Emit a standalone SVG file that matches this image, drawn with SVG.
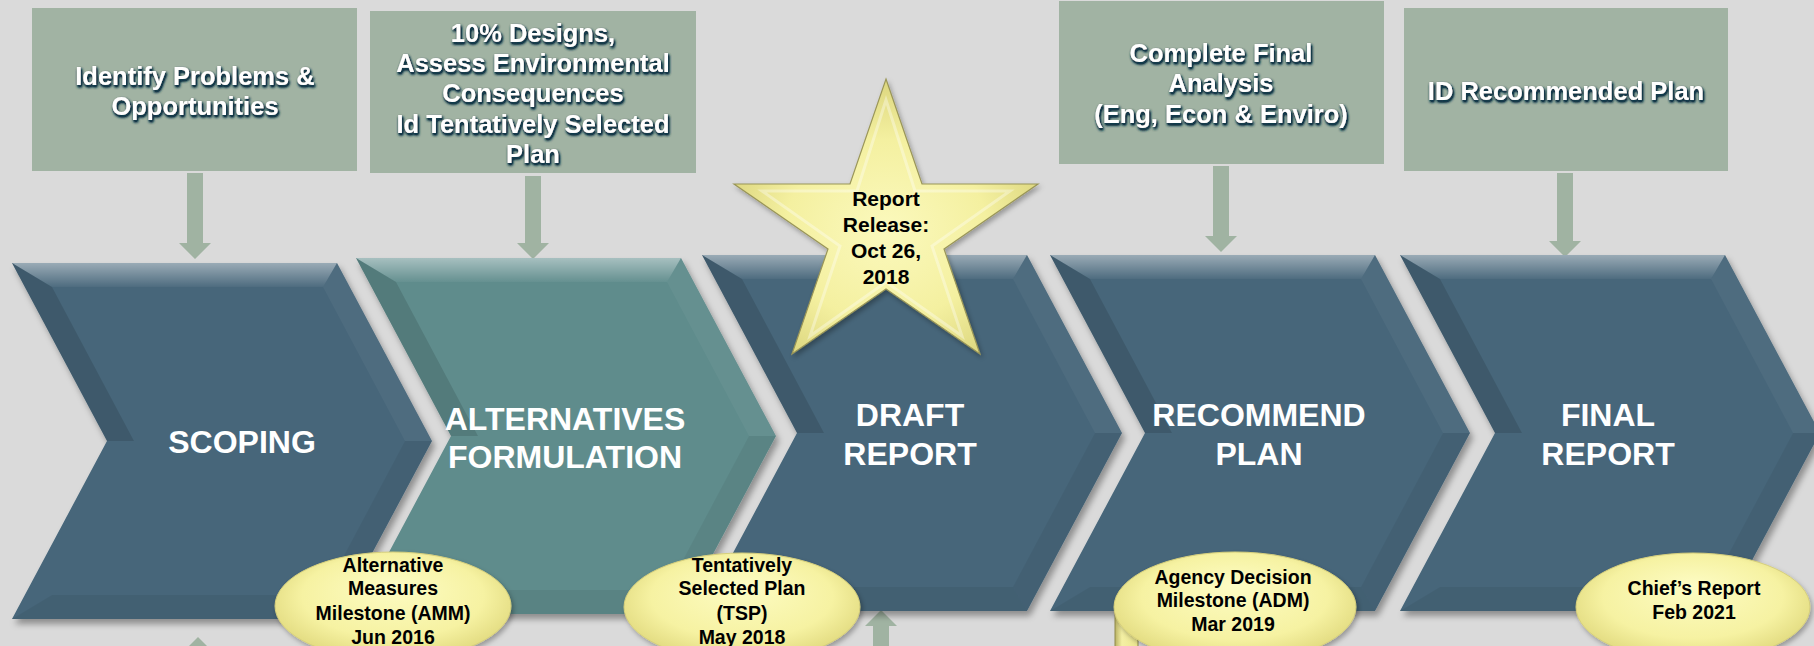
<svg xmlns="http://www.w3.org/2000/svg" xmlns:xlink="http://www.w3.org/1999/xlink" width="1814" height="646" viewBox="0 0 1814 646">
  <style>
    .box { fill: #a1b3a3; }
    .boxtxt { font-family: "Liberation Sans", Arial, sans-serif; font-weight: bold; font-size: 25.5px; fill: #ffffff; text-anchor: middle; }
    .chevtxt { font-family: "Liberation Sans", Arial, sans-serif; font-weight: bold; font-size: 32px; fill: #ffffff; text-anchor: middle; }
    .mstxt { font-family: "Liberation Sans", Arial, sans-serif; font-weight: bold; font-size: 19.5px; fill: #000000; text-anchor: middle; }
    .startxt { font-family: "Liberation Sans", Arial, sans-serif; font-weight: bold; font-size: 21px; fill: #000000; text-anchor: middle; }
    .dark { fill: #46667a; }
    .teal { fill: #5f8c8c; }
    .arrow { fill: #a0b3a2; }
    .ms { fill: url(#ellGrad); stroke: #d6cf7c; stroke-width: 1; }
  </style>
  <defs>
    <filter id="glow" x="-10%" y="-30%" width="120%" height="160%">
      <feGaussianBlur in="SourceAlpha" stdDeviation="1.8" result="b"/>
      <feOffset in="b" dx="1" dy="1.5" result="o"/>
      <feFlood flood-color="#163a4a"/>
      <feComposite in2="o" operator="in" result="c"/>
      <feComponentTransfer in="c" result="d"><feFuncA type="linear" slope="2.2"/></feComponentTransfer>
      <feMerge><feMergeNode in="d"/><feMergeNode in="SourceGraphic"/></feMerge>
    </filter>
    <filter id="shadow" x="-10%" y="-10%" width="125%" height="125%">
      <feDropShadow dx="3" dy="5" stdDeviation="3" flood-color="#000000" flood-opacity="0.35"/>
    </filter>
    <filter id="soft" x="-10%" y="-10%" width="125%" height="125%">
      <feDropShadow dx="2" dy="3" stdDeviation="2.5" flood-color="#000000" flood-opacity="0.3"/>
    </filter>
    <linearGradient id="topBand" x1="0" y1="0" x2="0" y2="1">
      <stop offset="0" stop-color="#ffffff" stop-opacity="0.45"/>
      <stop offset="1" stop-color="#ffffff" stop-opacity="0.04"/>
    </linearGradient>
    <radialGradient id="ellGrad" cx="0.5" cy="0.45" r="0.55" fx="0.5" fy="0.3">
      <stop offset="0" stop-color="#fdfcc4"/>
      <stop offset="0.7" stop-color="#f6f2a2"/>
      <stop offset="1" stop-color="#e2db80"/>
    </radialGradient>
    <radialGradient id="starGrad" cx="0.5" cy="0.55" r="0.55">
      <stop offset="0" stop-color="#fbf9bd"/>
      <stop offset="0.6" stop-color="#f4f0a0"/>
      <stop offset="1" stop-color="#dcd67e"/>
    </radialGradient>
    <linearGradient id="stickGrad" x1="0" y1="0" x2="1" y2="0">
      <stop offset="0" stop-color="#b8b163"/>
      <stop offset="0.3" stop-color="#f4f0a4"/>
      <stop offset="1" stop-color="#ece68f"/>
    </linearGradient>
    <polygon id="chevShape" points="0,0 325,0 420,178 325,356 0,356 95,178"/>
    <g id="chevBevel">
      <polygon points="0,0 325,0 311,24 40,24" fill="url(#topBand)"/>
      <polygon points="325,0 420,178 393,178 311,24" fill="#ffffff" fill-opacity="0.04"/>
      <polygon points="420,178 325,356 311,332 393,178" fill="#000000" fill-opacity="0.05"/>
      <polygon points="325,356 0,356 40,332 311,332" fill="#000000" fill-opacity="0.06"/>
      <polygon points="95,178 0,0 40,24 122,178" fill="#000000" fill-opacity="0.12"/>
    </g>
  </defs>

  <rect x="0" y="0" width="1814" height="646" fill="#dadada"/>

  <g id="box-identify">
    <rect class="box" x="32" y="8" width="325" height="163"/>
    <text class="boxtxt" filter="url(#glow)"><tspan x="195" y="85">Identify Problems &amp;</tspan><tspan x="195" y="115">Opportunities</tspan></text>
  </g>
  <g id="box-designs">
    <rect class="box" x="370" y="11" width="326" height="162"/>
    <text class="boxtxt" filter="url(#glow)"><tspan x="533" y="42">10% Designs,</tspan><tspan x="533" y="72">Assess Environmental</tspan><tspan x="533" y="102">Consequences</tspan><tspan x="533" y="133">Id Tentatively Selected</tspan><tspan x="533" y="163">Plan</tspan></text>
  </g>
  <g id="box-analysis">
    <rect class="box" x="1059" y="1" width="325" height="163"/>
    <text class="boxtxt" filter="url(#glow)"><tspan x="1221" y="62">Complete Final</tspan><tspan x="1221" y="92">Analysis</tspan><tspan x="1221" y="123">(Eng, Econ &amp; Enviro)</tspan></text>
  </g>
  <g id="box-recommended">
    <rect class="box" x="1404" y="8" width="324" height="163"/>
    <text class="boxtxt" filter="url(#glow)"><tspan x="1566" y="100">ID Recommended Plan</tspan></text>
  </g>

  <g id="connectors">
    <polygon class="arrow" points="187,173 203,173 203,243 211,243 195,259 179,243 187,243"/>
    <polygon class="arrow" points="525,176 541,176 541,243 549,243 533,259 517,243 525,243"/>
    <polygon class="arrow" points="1213,166 1229,166 1229,236 1237,236 1221,252 1205,236 1213,236"/>
    <polygon class="arrow" points="1557,173 1573,173 1573,241 1581,241 1565,257 1549,241 1557,241"/>
    <polygon class="arrow" points="881,610 897,626 889,626 889,646 873,646 873,626 865,626"/>
    <polygon class="arrow" points="198,637 214,653 182,653"/>
  </g>

  <g id="chev-scoping" transform="translate(12,263)">
    <use href="#chevShape" class="dark" filter="url(#shadow)"/>
    <use href="#chevBevel"/>
  </g>
  <g id="chev-alternatives" transform="translate(356,258)">
    <use href="#chevShape" class="teal" filter="url(#shadow)"/>
    <use href="#chevBevel"/>
  </g>
  <g id="chev-draft" transform="translate(702,255)">
    <use href="#chevShape" class="dark" filter="url(#shadow)"/>
    <use href="#chevBevel"/>
  </g>
  <g id="chev-recommend" transform="translate(1050,255)">
    <use href="#chevShape" class="dark" filter="url(#shadow)"/>
    <use href="#chevBevel"/>
  </g>
  <g id="chev-final" transform="translate(1400,255)">
    <use href="#chevShape" class="dark" filter="url(#shadow)"/>
    <use href="#chevBevel"/>
  </g>

  <g id="labels-chevrons">
    <text class="chevtxt"><tspan x="242" y="453">SCOPING</tspan></text>
    <text class="chevtxt"><tspan x="565" y="430">ALTERNATIVES</tspan><tspan x="565" y="468">FORMULATION</tspan></text>
    <text class="chevtxt"><tspan x="910" y="426">DRAFT</tspan><tspan x="910" y="465">REPORT</tspan></text>
    <text class="chevtxt"><tspan x="1259" y="426">RECOMMEND</tspan><tspan x="1259" y="465">PLAN</tspan></text>
    <text class="chevtxt"><tspan x="1608" y="426">FINAL</tspan><tspan x="1608" y="465">REPORT</tspan></text>
  </g>

  <g id="star-release">
    <polygon points="886,79 922,184 1038,184 944,249 980,354 886,289 792,354 828,249 734,184 850,184" fill="url(#starGrad)" stroke="#9a9658" stroke-width="1.2" filter="url(#soft)"/>
    <polygon points="886,100 915,191 1010,191 932,246 962,336 886,282 810,336 840,246 762,191 857,191" fill="none" stroke="#ffffff" stroke-opacity="0.35" stroke-width="3"/>
    <text class="startxt"><tspan x="886" y="206">Report</tspan><tspan x="886" y="232">Release:</tspan><tspan x="886" y="258">Oct 26,</tspan><tspan x="886" y="284">2018</tspan></text>
  </g>

  <g id="ms-amm">
    <ellipse class="ms" cx="393" cy="606" rx="118" ry="54" filter="url(#soft)"/>
    <text class="mstxt"><tspan x="393" y="572">Alternative</tspan><tspan x="393" y="595">Measures</tspan><tspan x="393" y="620">Milestone (AMM)</tspan><tspan x="393" y="644">Jun 2016</tspan></text>
  </g>
  <g id="ms-tsp">
    <ellipse class="ms" cx="742" cy="607" rx="118" ry="54" filter="url(#soft)"/>
    <text class="mstxt"><tspan x="742" y="572">Tentatively</tspan><tspan x="742" y="595">Selected Plan</tspan><tspan x="742" y="620">(TSP)</tspan><tspan x="742" y="644">May 2018</tspan></text>
  </g>
  <g id="ms-adm">
    <rect x="1115" y="612" width="23" height="40" fill="url(#stickGrad)" stroke="#8f8a4a" stroke-width="1"/>
    <ellipse class="ms" cx="1235" cy="607" rx="121" ry="55" filter="url(#soft)"/>
    <text class="mstxt"><tspan x="1233" y="584">Agency Decision</tspan><tspan x="1233" y="607">Milestone (ADM)</tspan><tspan x="1233" y="631">Mar 2019</tspan></text>
  </g>
  <g id="ms-chief">
    <ellipse class="ms" cx="1693" cy="607" rx="117" ry="54" filter="url(#soft)"/>
    <text class="mstxt"><tspan x="1694" y="595">Chief’s Report</tspan><tspan x="1694" y="619">Feb 2021</tspan></text>
  </g>
</svg>
